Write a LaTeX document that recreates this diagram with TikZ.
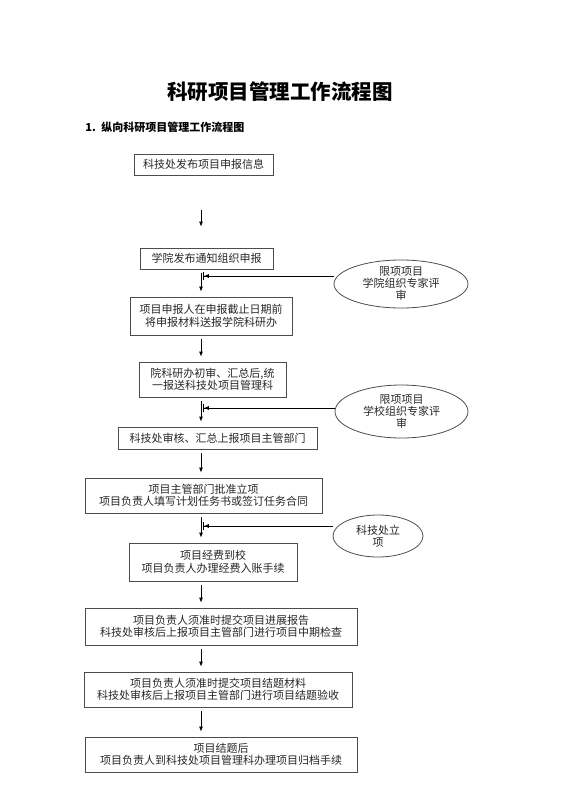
\documentclass[tikz,border=0pt]{standalone}
\usepackage{fontspec}
\setmainfont{Noto Sans CJK SC}
\usetikzlibrary{shapes.geometric,arrows.meta,positioning}
\begin{document}
\begin{tikzpicture}[x=1pt, y=-1pt, line width=0.8pt,
    proc/.style = {draw=black!70, inner sep=0pt, align=center, text=black!85, font=\fontsize{11}{12.5}\selectfont},
    note/.style = {draw=black!70, ellipse, inner sep=0pt, align=center, text=black!85, font=\fontsize{11}{12}\selectfont},
    flow/.style = {-{Latex[length=5pt,width=4pt]}, shorten <=4pt, shorten >=5pt},
    side/.style = {-{Latex[length=5pt,width=4pt] Bar[width=8pt]}}]
    \useasboundingbox (0,0) rectangle (560,792);

    \node[font=\bfseries\fontsize{20.5}{24}\selectfont] (title) at (280,92) {科研项目管理工作流程图};
    \node[anchor=west, inner sep=0pt, font=\bfseries\fontsize{11}{13}\selectfont] (sub) at (85,127) {1.\enspace 纵向科研项目管理工作流程图};

    \node[proc, minimum width=139, minimum height=21] (b1) at (203.5,164.5) {科技处发布项目申报信息};
    \node[proc, minimum width=133, minimum height=21] (b2) at (206.5,258.5) {学院发布通知组织申报};
    \node[proc, minimum width=162, minimum height=38] (b3) at (211,316) {项目申报人在申报截止日期前\\将申报材料送报学院科研办};
    \node[proc, minimum width=147, minimum height=35] (b4) at (212.5,379.5) {院科研办初审、汇总后,统\\一报送科技处项目管理科};
    \node[proc, minimum width=199, minimum height=22] (b5) at (217.5,438) {科技处审核、汇总上报项目主管部门};
    \node[proc, minimum width=237, minimum height=35] (b6) at (203.5,495.5) {项目主管部门批准立项\\项目负责人填写计划任务书或签订任务合同};
    \node[proc, minimum width=168, minimum height=38] (b7) at (213,562) {项目经费到校\\项目负责人办理经费入账手续};
    \node[proc, minimum width=272, minimum height=37] (b8) at (221,626.5) {项目负责人须准时提交项目进展报告\\科技处审核后上报项目主管部门进行项目中期检查};
    \node[proc, minimum width=268, minimum height=35] (b9) at (218,689.5) {项目负责人须准时提交项目结题材料\\科技处审核后上报项目主管部门进行项目结题验收};
    \node[proc, minimum width=272, minimum height=35] (b10) at (221,754.5) {项目结题后\\项目负责人到科技处项目管理科办理项目归档手续};

    \node[note, minimum width=134, minimum height=48] (e1) at (401,284) {限项项目\\学院组织专家评\\审};
    \node[note, minimum width=133, minimum height=53] (e2) at (401.5,411.5) {限项项目\\学校组织专家评\\审};
    \node[note, minimum width=90, minimum height=42] (e3) at (378,536) {科技处立\\项};

    \coordinate (col) at (201,0);
    \coordinate (t1) at (203,276);
    \coordinate (t2) at (203,408);
    \coordinate (t3) at (203,526);

    \draw[flow, shorten <=35pt, shorten >=21pt] (b1.south -| col) -- (b2.north -| col);
    \draw[flow] (b2.south -| col) -- (b3.north -| col);
    \draw[flow] (b3.south -| col) -- (b4.north -| col);
    \draw[flow] (b4.south -| col) -- (b5.north -| col);
    \draw[flow] (b5.south -| col) -- (b6.north -| col);
    \draw[flow] (b6.south -| col) -- (b7.north -| col);
    \draw[flow] (b7.south -| col) -- (b8.north -| col);
    \draw[flow] (b8.south -| col) -- (b9.north -| col);
    \draw[flow] (b9.south -| col) -- (b10.north -| col);

    \draw[side] (e1.west |- t1) -- (t1);
    \draw[side] (e2.west |- t2) -- (t2);
    \draw[side] (e3.west |- t3) -- (t3);

\end{tikzpicture}
\end{document}
